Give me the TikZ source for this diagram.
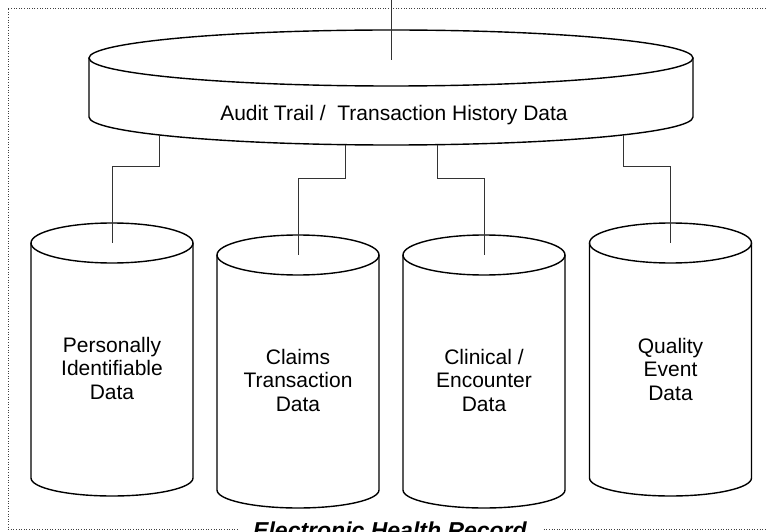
\documentclass[tikz,border=0pt]{standalone}
\usepackage{fontspec}
\setmainfont{Liberation Sans}
\begin{document}
\begin{tikzpicture}[x=1pt,y=1pt,
  cyl/.style={draw=black,line width=1.4pt},
  conn/.style={draw=black!80,line width=0.9pt},
  frame/.style={draw=black!75,line width=0.9pt,dash pattern=on 1pt off 1.6pt},
  lbl/.style={align=center,font=\fontsize{21}{23.5}\selectfont,inner sep=0pt},
  title/.style={font=\fontsize{23}{26}\selectfont\bfseries\itshape,fill=white,inner xsep=15pt,inner ysep=3pt}]
\fill[white] (0,0) rectangle (766,531);
\useasboundingbox (0,0) rectangle (766,531);
% frame
\draw[frame] (766,523) -- (8,523) -- (8,2) -- (766,2);
% audit cylinder
\draw[cyl] (391,473) ellipse (302 and 28);
\draw[cyl] (89,473) -- (89,414) arc (180:360:302 and 28) -- (693,473);
\node[lbl,anchor=base] (audit) at (394,410.5) {Audit Trail /\ \ Transaction History Data};
% data cylinders
\draw[cyl] (112,288) ellipse (81 and 20);
\draw[cyl] (31,288) -- (31,53) arc (180:360:81 and 18) -- (193,288);
\draw[cyl] (298,276) ellipse (81 and 20);
\draw[cyl] (217,276) -- (217,41) arc (180:360:81 and 18) -- (379,276);
\draw[cyl] (484,276) ellipse (81 and 20);
\draw[cyl] (403,276) -- (403,41) arc (180:360:81 and 18) -- (565,276);
\draw[cyl] (670.5,288) ellipse (81 and 20);
\draw[cyl] (589.5,288) -- (589.5,53) arc (180:360:81 and 18) -- (751.5,288);
\node[lbl] (pid) at (112,163) {Personally\\Identifiable\\Data};
\node[lbl] (claims) at (298,151) {Claims\\Transaction\\Data};
\node[lbl] (clin) at (484,151) {Clinical /\\Encounter\\Data};
\node[lbl] (qual) at (670.5,162) {Quality\\Event\\Data};
% connector ends
\coordinate (top) at (391,531);
\coordinate (atop) at (391,471);
\coordinate (a1) at (159,396.1);
\coordinate (a2) at (345,386.3);
\coordinate (a3) at (437,386.3);
\coordinate (a4) at (623,396.1);
\coordinate (c1) at (112,288);
\coordinate (c2) at (298,276);
\coordinate (c3) at (484,276);
\coordinate (c4) at (670.5,288);
\draw[conn] (top) -- (atop);
\draw[conn] (a1) -- ++(0,-32) -| (c1);
\draw[conn] (a2) -- ++(0,-33.3) -| (c2);
\draw[conn] (a3) -- ++(0,-33.3) -| (c3);
\draw[conn] (a4) -- ++(0,-32) -| (c4);
% title
\node[title,anchor=base] (ehr) at (390,-7.5) {Electronic Health Record};
\end{tikzpicture}
\end{document}
